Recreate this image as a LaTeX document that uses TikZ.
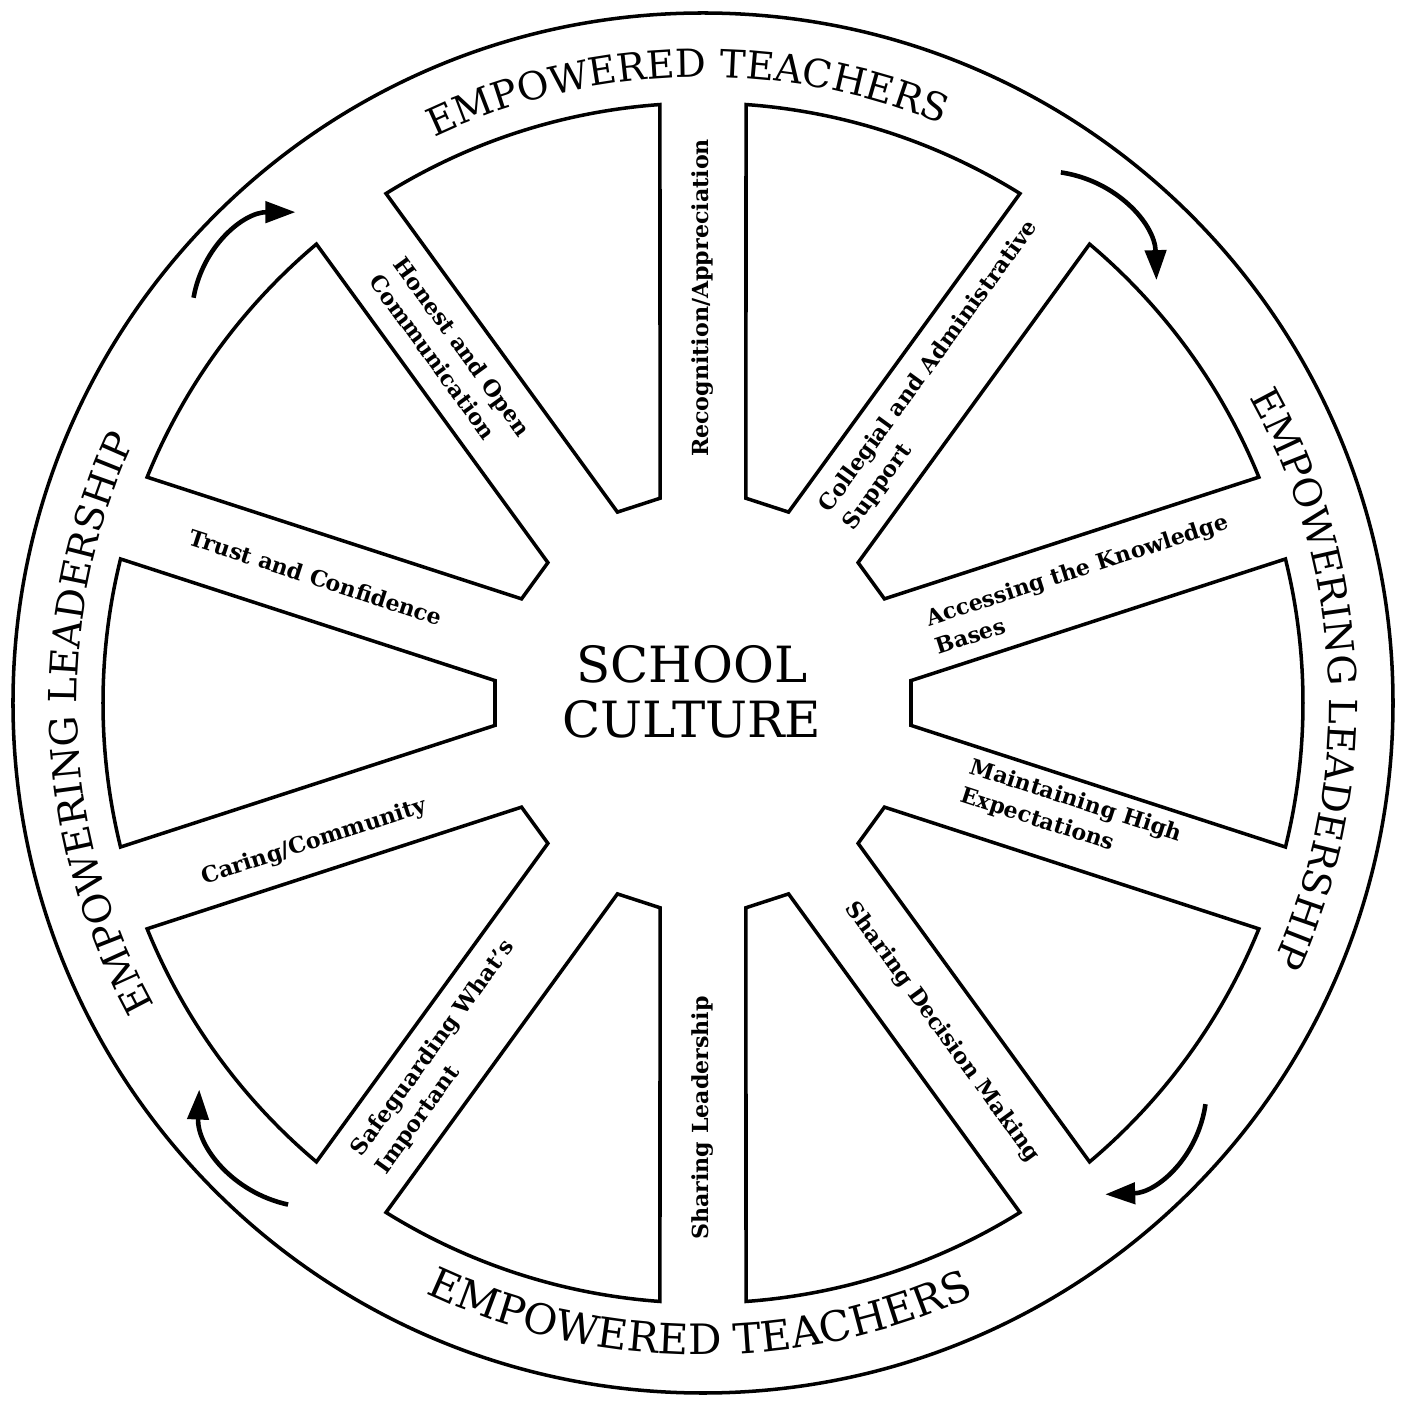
\documentclass[tikz,border=0pt]{standalone}
\usepackage{fontspec}
\setmainfont{DejaVu Serif}
\usetikzlibrary{arrows.meta,decorations.text}

\newcommand{\ringfont}{\fontsize{11}{13}\selectfont}
\newcommand{\lowringfont}{\fontsize{11.9}{14}\selectfont}

\tikzset{
	panel/.style={draw, line width=1pt},
	spoke/.style={font=\fontsize{6.3}{8.5}\selectfont\bfseries, align=left, inner sep=0pt},
	turn/.style={line width=1.3pt, -{Triangle[length=0.3cm,width=0.21cm]}, bend left=40},
}

\begin{document}
\begin{tikzpicture}
	\useasboundingbox (-7.03,-7.00) rectangle (7.00,7.03);
	\draw[line width=1pt] (0,0) circle[radius=6.9];
	% the ten panels between the spokes
	\foreach \a in {0,36,...,324}
		\draw[panel,rotate=\a] (2.08,-0.224) -- (2.08,0.224) -- (13.89:6.0) arc[start angle=13.89, end angle=-13.89, radius=6.0] -- cycle;
	\node[font=\fontsize{14.2}{15.6}\selectfont, align=center] (culture) at (-0.11,0.11) {SCHOOL\\CULTURE};
	% ring texts
	\path[decorate, decoration={text along path, text={|\ringfont|EMPOWERED TEACHERS}, text align=center}] (131.5:6.26) arc[start angle=131.5, end angle=51.5, radius=6.26];
	\path[decorate, decoration={text along path, text={|\lowringfont|EMPOWERED TEACHERS}, text align=center}] (-130.3:6.52) arc[start angle=-130.3, end angle=-50.3, radius=6.52];
	\path[decorate, decoration={text along path, text={|\ringfont|EMPOWERING LEADERSHIP}, text align=center}] (222:6.26) arc[start angle=222, end angle=142, radius=6.26];
	\path[decorate, decoration={text along path, text={|\ringfont|EMPOWERING LEADERSHIP}, text align=center}] (42.4:6.26) arc[start angle=42.4, end angle=-37.6, radius=6.26];
	% spoke labels
	\node[spoke, rotate=90] (recog) at (90:4.05) {Recognition/Appreciation};
	\node[spoke, rotate=54] (colleg) at (54:4.05) {Collegial and Administrative\\Support};
	\node[spoke, rotate=18] (access) at (17.5:3.97) {Accessing the Knowledge\\Bases};
	\node[spoke, rotate=-18] (maint) at (-17:3.85) {Maintaining High\\Expectations};
	\node[spoke, rotate=-54] (decide) at (-54:4.07) {Sharing Decision Making};
	\node[spoke, rotate=90] (lead) at (-90:4.15) {Sharing Leadership};
	\node[spoke, rotate=54] (guard) at (-126:4.38) {Safeguarding What’s\\Important};
	\node[spoke, rotate=18] (caring) at (199.7:4.13) {Caring/Community};
	\node[spoke, rotate=-18] (trust) at (162:4.07) {Trust and Confidence};
	\node[spoke, rotate=-54] (honest) at (126:4.3) {Honest and Open\\Communication};
	% arrows round the ring
	\coordinate (tl-tail) at (141.5:6.51);
	\coordinate (tl-tip) at (129.7:6.38);
	\coordinate (tr-tail) at (56:6.40);
	\coordinate (tr-tip) at (43:6.20);
	\coordinate (br-tail) at (-38.6:6.43);
	\coordinate (br-tip) at (-50.7:6.35);
	\coordinate (bl-tail) at (230.4:6.51);
	\coordinate (bl-tip) at (217.5:6.35);
	\draw[turn] (tl-tail) to (tl-tip);
	\draw[turn] (tr-tail) to (tr-tip);
	\draw[turn] (br-tail) to (br-tip);
	\draw[turn] (bl-tail) to (bl-tip);
\end{tikzpicture}
\end{document}
